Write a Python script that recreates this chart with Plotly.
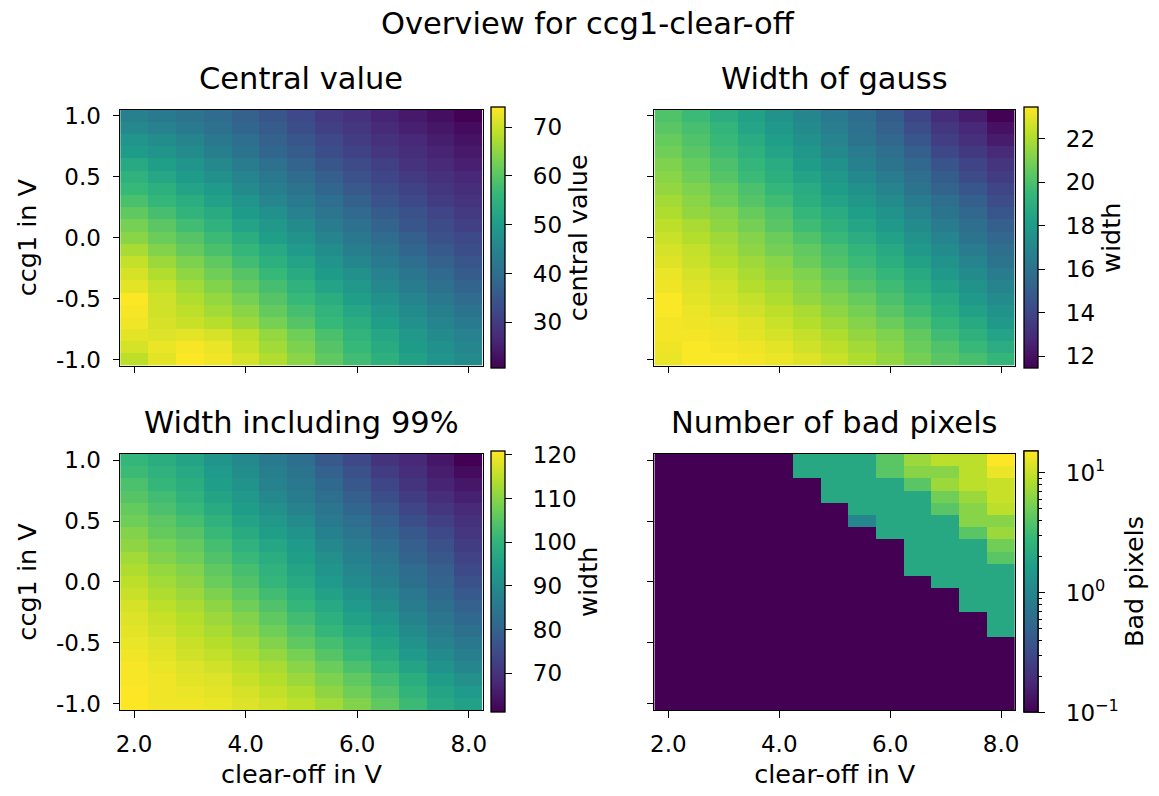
import plotly.graph_objects as go
import numpy as np

W, H = 1159, 796
FONT = "DejaVu Sans"

clear_off = [2.0, 2.5, 3.0, 3.5, 4.0, 4.5, 5.0, 5.5, 6.0, 6.5, 7.0, 7.5, 8.0]
# rows listed from top (ccg1 = 1.0) down to bottom (ccg1 = -1.0)
ccg1_top_down = [1.0, 0.9, 0.8, 0.7, 0.6, 0.5, 0.4, 0.3, 0.2, 0.1, 0.0,
                 -0.1, -0.2, -0.3, -0.4, -0.5, -0.6, -0.7, -0.8, -0.9, -1.0]

central_value = [
    [44.0, 42.5, 41.0, 39.3, 37.2, 35.0, 32.4, 29.7, 28.1, 26.0, 24.3, 22.7, 20.8],
    [45.7, 44.1, 42.5, 40.4, 38.3, 36.1, 33.4, 30.8, 29.2, 27.0, 25.4, 23.8, 22.2],
    [48.4, 46.8, 44.7, 42.0, 39.9, 37.2, 35.0, 32.4, 30.2, 28.1, 26.5, 24.9, 23.3],
    [50.0, 48.4, 46.3, 43.6, 40.9, 38.3, 36.1, 33.4, 31.3, 29.2, 27.6, 26.0, 24.3],
    [52.7, 50.6, 48.4, 45.7, 43.1, 40.4, 37.7, 35.0, 32.9, 30.8, 28.6, 27.0, 25.4],
    [54.8, 52.2, 50.0, 47.4, 44.7, 42.0, 39.3, 36.7, 34.0, 31.8, 29.7, 28.1, 26.5],
    [56.4, 54.3, 51.6, 49.5, 46.3, 43.6, 40.9, 38.3, 35.6, 33.4, 31.3, 29.2, 27.6],
    [58.6, 55.9, 53.8, 51.1, 48.4, 45.2, 42.5, 39.9, 37.2, 34.5, 32.4, 30.2, 28.6],
    [60.7, 58.1, 55.4, 53.2, 50.0, 47.4, 44.1, 41.5, 38.8, 36.1, 34.0, 31.8, 29.7],
    [62.9, 60.2, 57.5, 54.8, 51.6, 49.0, 46.3, 43.1, 40.4, 37.7, 35.0, 32.9, 30.8],
    [64.5, 61.8, 59.7, 57.0, 53.8, 50.6, 47.9, 44.7, 42.0, 39.3, 36.7, 34.0, 32.4],
    [67.1, 63.9, 61.3, 58.6, 55.9, 52.7, 49.5, 46.8, 43.6, 40.9, 38.3, 35.6, 33.4],
    [69.3, 66.1, 63.4, 60.7, 57.5, 54.3, 51.6, 48.4, 45.2, 42.5, 39.9, 37.2, 35.0],
    [70.9, 67.7, 65.0, 62.3, 59.7, 56.4, 53.2, 50.0, 47.4, 44.1, 41.5, 38.8, 36.1],
    [72.0, 69.3, 66.6, 63.9, 61.3, 58.1, 54.8, 51.6, 49.0, 45.7, 43.1, 40.4, 37.7],
    [74.0, 70.4, 67.7, 65.5, 62.9, 59.7, 56.4, 53.8, 50.6, 47.4, 44.7, 42.0, 39.3],
    [73.6, 70.4, 68.8, 66.6, 64.5, 61.3, 58.1, 55.4, 52.2, 49.0, 46.3, 43.6, 40.9],
    [73.0, 70.9, 69.8, 68.2, 66.1, 62.9, 59.7, 56.4, 53.8, 50.6, 47.4, 44.7, 42.5],
    [72.0, 71.4, 72.0, 70.9, 68.8, 65.5, 62.3, 58.6, 55.4, 52.2, 49.0, 46.3, 44.1],
    [70.9, 72.5, 73.6, 72.5, 69.8, 66.6, 63.4, 59.7, 56.4, 53.2, 50.0, 47.4, 45.2],
    [68.8, 72.0, 74.0, 73.0, 70.9, 67.7, 64.5, 60.7, 57.5, 54.3, 51.1, 48.4, 46.3],
]

width_gauss = [
    [20.1, 19.6, 18.9, 18.3, 17.6, 17.0, 16.4, 15.7, 15.0, 14.0, 13.0, 12.4, 11.5],
    [20.3, 19.9, 19.3, 18.5, 17.9, 17.2, 16.6, 15.9, 15.2, 14.3, 13.4, 12.8, 12.0],
    [20.6, 20.1, 19.5, 18.8, 18.2, 17.5, 16.9, 16.1, 15.4, 14.7, 13.7, 13.1, 12.4],
    [20.8, 20.3, 19.7, 19.1, 18.4, 17.8, 17.1, 16.5, 15.8, 15.1, 14.1, 13.5, 12.9],
    [21.1, 20.6, 20.0, 19.4, 18.8, 18.1, 17.5, 16.7, 16.1, 15.4, 14.6, 13.9, 13.3],
    [21.3, 20.8, 20.2, 19.6, 19.0, 18.4, 17.8, 17.1, 16.5, 15.8, 15.0, 14.2, 13.6],
    [21.5, 21.1, 20.6, 20.0, 19.4, 18.8, 18.1, 17.5, 16.9, 16.1, 15.3, 14.7, 14.0],
    [21.8, 21.3, 20.8, 20.2, 19.7, 19.0, 18.4, 17.8, 17.2, 16.5, 15.8, 15.1, 14.3],
    [22.0, 21.5, 21.2, 20.6, 20.1, 19.4, 18.8, 18.2, 17.6, 16.9, 16.1, 15.4, 14.7],
    [22.3, 21.9, 21.4, 20.9, 20.3, 19.7, 19.1, 18.5, 17.9, 17.2, 16.5, 15.8, 15.1],
    [22.5, 22.1, 21.7, 21.2, 20.7, 20.1, 19.5, 18.9, 18.3, 17.6, 16.9, 16.1, 15.4],
    [22.7, 22.4, 21.9, 21.4, 20.9, 20.5, 19.9, 19.3, 18.7, 17.9, 17.2, 16.5, 15.8],
    [22.9, 22.5, 22.1, 21.7, 21.3, 20.7, 20.1, 19.6, 19.0, 18.3, 17.6, 16.9, 16.1],
    [23.1, 22.7, 22.4, 21.9, 21.5, 21.1, 20.5, 19.9, 19.4, 18.7, 17.9, 17.2, 16.5],
    [23.2, 22.9, 22.6, 22.1, 21.8, 21.3, 20.8, 20.2, 19.7, 19.0, 18.3, 17.6, 16.9],
    [23.4, 23.0, 22.7, 22.4, 22.0, 21.5, 21.1, 20.6, 20.0, 19.4, 18.7, 17.9, 17.2],
    [23.4, 23.1, 22.9, 22.6, 22.3, 21.9, 21.4, 20.9, 20.3, 19.7, 19.0, 18.3, 17.6],
    [23.3, 23.2, 23.1, 22.9, 22.5, 22.1, 21.7, 21.2, 20.7, 20.1, 19.4, 18.7, 17.9],
    [23.3, 23.3, 23.2, 23.0, 22.7, 22.4, 22.0, 21.5, 21.1, 20.5, 19.7, 19.1, 18.4],
    [23.2, 23.4, 23.3, 23.2, 23.0, 22.6, 22.3, 21.8, 21.3, 20.7, 20.1, 19.5, 18.9],
    [23.1, 23.4, 23.4, 23.3, 23.1, 22.9, 22.5, 22.0, 21.5, 20.9, 20.3, 19.9, 19.4],
]

width_99 = [
    [100.5, 98.1, 95.7, 92.1, 89.1, 85.5, 82.5, 77.7, 74.2, 70.0, 67.6, 64.6, 61.0],
    [101.7, 99.3, 96.9, 93.3, 90.3, 86.7, 83.7, 79.5, 76.0, 71.8, 68.8, 65.8, 62.8],
    [103.5, 100.5, 98.1, 94.5, 91.5, 87.9, 84.9, 81.3, 77.2, 73.6, 70.0, 67.0, 64.6],
    [104.7, 102.3, 99.3, 95.7, 92.7, 89.1, 86.1, 82.5, 78.9, 75.4, 71.8, 68.8, 66.4],
    [106.4, 103.5, 101.1, 97.5, 93.9, 90.9, 87.9, 84.3, 80.7, 77.2, 73.6, 70.6, 68.2],
    [107.6, 105.3, 102.9, 99.3, 95.7, 92.7, 89.7, 85.5, 82.5, 78.9, 75.4, 72.4, 69.4],
    [109.4, 106.4, 104.7, 101.1, 97.5, 94.5, 91.5, 87.3, 84.3, 80.7, 77.2, 74.2, 70.6],
    [110.6, 108.2, 106.4, 102.9, 99.3, 96.3, 93.3, 89.1, 86.1, 82.5, 78.9, 76.0, 71.8],
    [112.4, 109.4, 107.6, 104.1, 101.1, 98.1, 94.5, 90.9, 87.3, 84.3, 80.1, 77.2, 73.0],
    [113.6, 111.2, 109.4, 105.9, 102.9, 99.3, 95.7, 92.1, 88.5, 85.5, 81.9, 78.9, 74.2],
    [114.8, 112.4, 110.6, 107.0, 104.1, 100.5, 96.9, 93.3, 89.7, 86.7, 83.1, 80.1, 76.0],
    [116.0, 113.6, 111.8, 108.8, 105.9, 102.3, 98.7, 95.1, 91.5, 88.5, 84.9, 81.3, 77.7],
    [117.2, 114.8, 113.0, 110.6, 107.6, 104.1, 100.5, 96.9, 93.3, 90.3, 86.1, 83.1, 79.5],
    [117.8, 116.0, 114.2, 111.8, 109.4, 105.9, 102.3, 98.7, 95.1, 92.1, 87.9, 84.3, 81.3],
    [118.4, 116.6, 114.8, 113.0, 110.6, 107.6, 104.1, 100.5, 96.9, 93.9, 89.7, 86.1, 83.1],
    [119.0, 117.8, 116.0, 114.2, 112.4, 109.4, 105.9, 102.9, 99.3, 95.7, 91.5, 87.9, 84.9],
    [119.6, 118.4, 116.6, 115.4, 113.6, 111.2, 108.2, 104.7, 101.1, 97.5, 93.3, 89.7, 86.7],
    [120.2, 119.0, 117.8, 116.6, 114.8, 113.0, 110.0, 107.0, 103.5, 99.9, 95.7, 91.5, 88.5],
    [120.2, 119.6, 118.4, 117.8, 116.0, 114.2, 111.8, 108.8, 105.9, 102.3, 98.1, 93.9, 90.9],
    [120.8, 119.6, 119.0, 118.4, 117.2, 115.4, 113.6, 110.6, 107.6, 104.1, 99.9, 95.7, 93.3],
    [120.8, 119.6, 119.6, 119.0, 117.8, 116.6, 114.8, 112.4, 109.4, 105.9, 101.7, 96.9, 95.1],
]

bad_pixels = [
    [0, 0, 0, 0, 0, 2, 2, 2, 4, 7, 9, 9, 15],
    [0, 0, 0, 0, 0, 2, 2, 2, 4, 6, 6, 9, 13],
    [0, 0, 0, 0, 0, 0, 2, 2, 2, 4, 7, 9, 10],
    [0, 0, 0, 0, 0, 0, 2, 2, 2, 2, 5, 7, 10],
    [0, 0, 0, 0, 0, 0, 0, 2, 2, 2, 4, 6, 9],
    [0, 0, 0, 0, 0, 0, 0, 1, 2, 2, 2, 6, 6],
    [0, 0, 0, 0, 0, 0, 0, 0, 2, 2, 2, 4, 7],
    [0, 0, 0, 0, 0, 0, 0, 0, 0, 2, 2, 2, 5],
    [0, 0, 0, 0, 0, 0, 0, 0, 0, 2, 2, 2, 4],
    [0, 0, 0, 0, 0, 0, 0, 0, 0, 2, 2, 2, 2],
    [0, 0, 0, 0, 0, 0, 0, 0, 0, 0, 2, 2, 2],
    [0, 0, 0, 0, 0, 0, 0, 0, 0, 0, 0, 2, 2],
    [0, 0, 0, 0, 0, 0, 0, 0, 0, 0, 0, 2, 2],
    [0, 0, 0, 0, 0, 0, 0, 0, 0, 0, 0, 0, 2],
    [0, 0, 0, 0, 0, 0, 0, 0, 0, 0, 0, 0, 2],
    [0, 0, 0, 0, 0, 0, 0, 0, 0, 0, 0, 0, 0],
    [0, 0, 0, 0, 0, 0, 0, 0, 0, 0, 0, 0, 0],
    [0, 0, 0, 0, 0, 0, 0, 0, 0, 0, 0, 0, 0],
    [0, 0, 0, 0, 0, 0, 0, 0, 0, 0, 0, 0, 0],
    [0, 0, 0, 0, 0, 0, 0, 0, 0, 0, 0, 0, 0],
    [0, 0, 0, 0, 0, 0, 0, 0, 0, 0, 0, 0, 0],
]

x_tick_vals = [2.0, 4.0, 6.0, 8.0]
x_tick_text = ["2.0", "4.0", "6.0", "8.0"]
y_tick_vals = [-1.0, -0.5, 0.0, 0.5, 1.0]
y_tick_text = ["-1.0", "-0.5", "0.0", "0.5", "1.0"]

panel_titles = ["Central value", "Width of gauss", "Width including 99%", "Number of bad pixels"]
cbar_titles = ["central value", "width", "width", "Bad pixels"]
suptitle = "Overview for ccg1-clear-off"

# ---------------- layout geometry (pixels) ----------------
def px_x(p):
    return p / W

def px_y(p):
    return 1 - p / H

col_x = [(117, 482), (655, 1018)]
row_y = [(104.5, 365), (455, 715.5)]
cbar_x = [490, 1027]
cbar_title_x = [(577.5, 1114), (588, 1138)]

ccg1 = ccg1_top_down[::-1]

def flip(m):
    return [list(r) for r in m[::-1]]

bad_arr = np.array(bad_pixels, dtype=float)
bad_log = np.log10(np.where(bad_arr > 0, bad_arr, 0.1))

PAD = "\u00a0\u2009\u2009"
datasets = [
    (flip(central_value), 20.6, 74.1, [30, 40, 50, 60, 70], ["30", "40", "50", "60", "70"]),
    (flip(width_gauss), 11.46, 23.46, [12, 14, 16, 18, 20, 22], ["12", "14", "16", "18", "20", "22"]),
    (flip(width_99), 61.0, 120.8, [70, 80, 90, 100, 110, 120], ["70", "80", "90", "100", "110", "120"]),
]

LOGMAX = float(np.log10(15))
log_major = [-1, 0, 1]
log_minor = []
for dec in [-1, 0, 1]:
    for m in range(2, 10):
        v = dec + np.log10(m)
        if v <= LOGMAX:
            log_minor.append(float(v))
log_text = ["10<sup>−1</sup>", "10<sup>0</sup>", "10<sup>1</sup>"]
datasets.append((flip(bad_log.tolist()), -1.0, LOGMAX, log_major, log_text))

fig = go.Figure()
tick_font = dict(family=FONT, size=23, color="black")
label_font = dict(family=FONT, size=25.5, color="black")
title_font = dict(family=FONT, size=30.5, color="black")


def cbar(c, r, tv, tt, ticklen):
    yc = (row_y[r][0] + row_y[r][1]) / 2
    d = dict(
        x=px_x(cbar_x[c]), xanchor="left", y=px_y(yc), yanchor="middle",
        len=row_y[r][1] - row_y[r][0], lenmode="pixels",
        thickness=14, thicknessmode="pixels",
        outlinewidth=1.3, outlinecolor="black",
        tickvals=tv, ticks="outside", ticklen=ticklen, tickwidth=1.3,
        tickcolor="black", tickfont=tick_font, xpad=0, ypad=0,
    )
    if tt is None:
        d["showticklabels"] = False
    else:
        d["ticktext"] = tt
    return d


for i, (z, zmin, zmax, tv, tt) in enumerate(datasets):
    r, c = divmod(i, 2)
    xa = "x" if i == 0 else f"x{i+1}"
    ya = "y" if i == 0 else f"y{i+1}"
    fig.add_trace(go.Heatmap(
        x=clear_off, y=ccg1, z=z, zmin=zmin, zmax=zmax,
        colorscale="Viridis", xaxis=xa, yaxis=ya,
        colorbar=cbar(c, r, tv, [PAD + t for t in tt], 6.5),
        hoverinfo="skip",
    ))
    axis_common = dict(showline=True, mirror=True, linecolor="black", linewidth=1.3,
                       ticks="outside", ticklen=6.5, tickwidth=1.3, tickcolor="black",
                       showgrid=False, zeroline=False, tickfont=tick_font,
                       ticklabelstandoff=7)
    xkey = "xaxis" if i == 0 else f"xaxis{i+1}"
    ykey = "yaxis" if i == 0 else f"yaxis{i+1}"
    xdict = dict(axis_common, domain=[px_x(col_x[c][0]), px_x(col_x[c][1])],
                 anchor=ya, range=[1.75, 8.25], tickvals=x_tick_vals)
    if r == 1:
        xdict.update(ticktext=x_tick_text,
                     title=dict(text="clear-off in V", font=label_font, standoff=8))
    else:
        xdict.update(showticklabels=False)
    ydict = dict(axis_common, domain=[px_y(row_y[r][1]), px_y(row_y[r][0])],
                 anchor=xa, range=[-1.05, 1.05], tickvals=y_tick_vals)
    if c == 0:
        ydict.update(ticktext=y_tick_text,
                     title=dict(text="ccg1 in V", font=label_font, standoff=12))
    else:
        ydict.update(showticklabels=False)
    fig.update_layout({xkey: xdict, ykey: ydict})
    fig.add_annotation(text=panel_titles[i], x=(px_x(col_x[c][0]) + px_x(col_x[c][1])) / 2,
                       y=px_y(row_y[r][0] - 12), xref="paper", yref="paper",
                       xanchor="center", yanchor="bottom", showarrow=False,
                       font=title_font)
    fig.add_annotation(text=cbar_titles[i], textangle=-90,
                       x=px_x(cbar_title_x[r][c]), y=px_y((row_y[r][0] + row_y[r][1]) / 2),
                       xref="paper", yref="paper", xanchor="center", yanchor="middle",
                       showarrow=False, font=label_font)

# minor ticks of the log colour bar (shorter, unlabelled), drawn by a twin trace
fig.add_trace(go.Heatmap(
    x=clear_off, y=ccg1, z=flip(bad_log.tolist()), zmin=-1.0, zmax=LOGMAX,
    colorscale="Viridis", xaxis="x4", yaxis="y4",
    colorbar=cbar(1, 1, log_minor, None, 3.5),
    hoverinfo="skip",
))

fig.add_annotation(text=suptitle, x=px_x(588), y=px_y(17), xref="paper", yref="paper",
                   xanchor="center", yanchor="middle", showarrow=False,
                   font=title_font)

fig.update_layout(width=W, height=H, margin=dict(l=0, r=0, t=0, b=0),
                  paper_bgcolor="white", plot_bgcolor="white",
                  font=dict(family=FONT, color="black"))

fig.write_html("out.html")
